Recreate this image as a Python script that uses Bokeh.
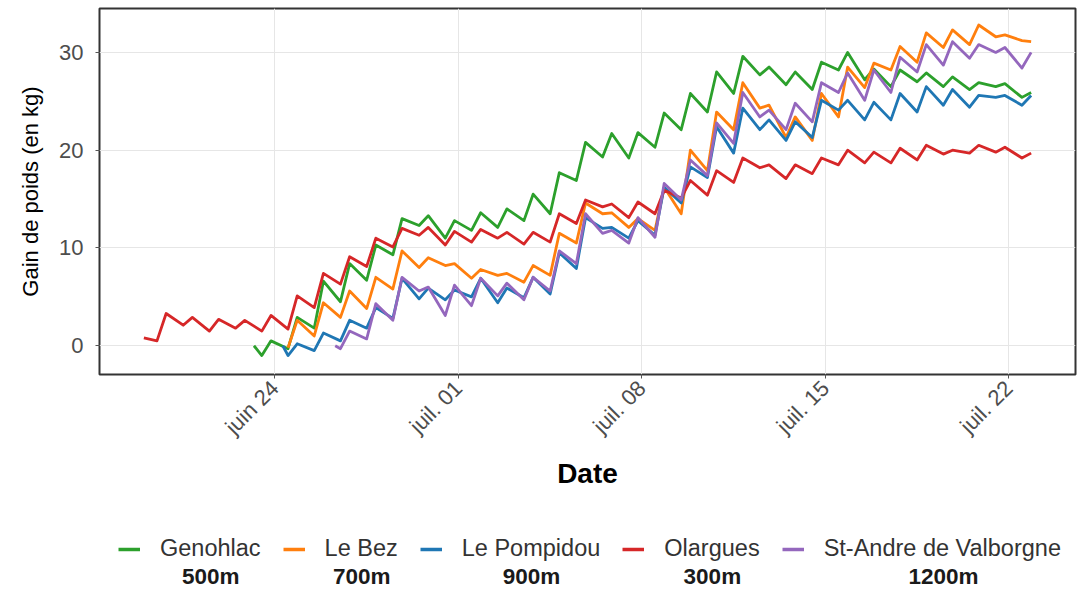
import pandas as pd
from bokeh.plotting import figure
from bokeh.models import ColumnDataSource, Range1d, FixedTicker, Legend, LegendItem, Label
from bokeh.layouts import column
from bokeh.embed import file_html
from bokeh.resources import INLINE

# ---------------- data ----------------
REF_DATE = pd.Timestamp("2023-06-24")          # day 0 of the day offsets below
TROUGH_TIME = 0.5                               # time of day of the daily low reading
PEAK_TIME = 0.85                                # time of day of the daily high reading

names = ["Genohlac", "Le Bez", "Le Pompidou", "Olargues", "St-Andre de Valborgne"]
altitudes = ["500m", "700m", "900m", "300m", "1200m"]
colors = ["#2ca02c", "#ff7f0e", "#1f77b4", "#d62728", "#9467bd"]

genohlac_first_day = -1
genohlac_lead = (-0.8, 0.0)
genohlac_low = [-1.0, -0.3, 1.8, 4.5, 6.7, 9.3, 12.3, 11.0, 11.8, 12.1, 12.8, 13.5, 16.9, 19.3, 19.2,
                20.3, 22.1, 23.9, 25.8, 27.7, 26.7, 26.2, 28.2, 27.2, 26.5, 27.0, 26.5, 26.2, 26.5, 25.4]
genohlac_high = [0.5, 2.9, 6.6, 8.4, 10.3, 13.0, 13.3, 12.8, 13.6, 14.0, 15.5, 17.7, 20.8, 21.7, 21.8,
                 23.8, 25.8, 28.0, 29.6, 28.5, 28.0, 29.0, 30.0, 28.3, 28.2, 27.9, 27.5, 26.9, 26.8, 25.9]

lebez_first_day = 0
lebez_lead = None
lebez_low = [-0.2, 1.0, 2.9, 3.8, 5.8, 8.0, 8.2, 6.9, 7.2, 6.5, 7.2, 10.5, 13.5, 12.1, 11.8, 13.5,
             17.9, 22.1, 24.3, 21.3, 21.0, 23.4, 26.4, 28.2, 29.0, 30.5, 30.8, 31.6, 31.2]
lebez_high = [2.6, 4.4, 5.6, 7.0, 9.7, 9.0, 8.4, 7.8, 7.4, 8.2, 11.5, 14.6, 13.6, 13.0, 16.2, 20.0,
              23.9, 26.9, 24.6, 23.4, 25.8, 28.5, 28.9, 30.6, 32.0, 32.3, 32.8, 31.8, 31.1]

pompidou_first_day = 0
pompidou_lead = (0.3, 0.0)
pompidou_low = [-1.0, -0.5, 0.5, 1.8, 2.8, 4.8, 4.7, 5.0, 4.4, 4.9, 5.3, 7.9, 12.0, 11.0, 11.3, 14.6,
                17.2, 19.7, 22.1, 21.0, 21.3, 24.1, 23.1, 23.1, 23.9, 24.6, 24.4, 25.4, 24.6]
pompidou_high = [0.2, 1.3, 2.6, 3.9, 6.9, 5.9, 5.7, 6.9, 5.9, 7.0, 9.5, 13.1, 12.1, 12.8, 16.2, 18.3,
                 22.4, 24.3, 23.1, 22.9, 25.1, 25.1, 24.9, 25.8, 26.5, 26.2, 25.6, 25.6, 25.6]

olargues_first_day = -5
olargues_lead = (-5.0, 0.8)
olargues_low = [0.5, 2.1, 1.5, 1.8, 1.5, 1.7, 3.9, 6.3, 8.1, 10.1, 11.3, 10.3, 10.6, 11.0, 10.4, 10.6,
                12.5, 14.2, 13.1, 13.5, 15.1, 15.4, 16.7, 18.2, 17.1, 17.6, 18.5, 18.7, 18.7, 19.0,
                19.6, 19.7, 19.8, 19.2]
olargues_high = [3.3, 2.9, 2.7, 2.6, 3.1, 5.1, 7.4, 9.1, 11.0, 12.0, 12.1, 11.7, 11.9, 11.6, 11.6, 13.5,
                 14.9, 14.5, 14.7, 15.9, 16.9, 17.9, 19.2, 18.5, 18.5, 19.2, 20.0, 19.8, 20.2, 20.5,
                 20.0, 20.5, 20.3, 19.7]

standre_first_day = 2
standre_lead = (2.3, 0.0)
standre_low = [-0.3, 0.7, 2.6, 5.6, 3.1, 4.1, 5.1, 4.7, 5.6, 8.4, 11.5, 10.5, 11.1, 14.9, 17.4, 20.7,
               23.4, 22.1, 22.9, 25.9, 25.1, 25.9, 28.0, 28.7, 29.4, 30.0, 28.4]
standre_high = [1.5, 4.3, 7.0, 6.0, 6.2, 6.9, 6.4, 7.0, 9.7, 13.5, 11.8, 13.1, 16.6, 19.0, 22.8, 25.9,
                24.1, 24.8, 26.9, 27.9, 28.2, 29.5, 30.8, 31.1, 30.8, 30.5, 30.0]

x_tick_days = [0, 7, 14, 21, 28]
x_tick_labels = ["juin 24", "juil. 01", "juil. 08", "juil. 15", "juil. 22"]
y_ticks = [0, 10, 20, 30]

series = [
    (genohlac_first_day, genohlac_lead, genohlac_low, genohlac_high),
    (lebez_first_day, lebez_lead, lebez_low, lebez_high),
    (pompidou_first_day, pompidou_lead, pompidou_low, pompidou_high),
    (olargues_first_day, olargues_lead, olargues_low, olargues_high),
    (standre_first_day, standre_lead, standre_low, standre_high),
]


def build(first_day, lead, lows, highs):
    t, v = [], []
    if lead is not None:
        t.append(lead[0])
        v.append(lead[1])
    for i, (lo, hi) in enumerate(zip(lows, highs)):
        d = first_day + i
        t += [d + TROUGH_TIME, d + PEAK_TIME]
        v += [lo, hi]
    return t, v


all_t, all_v, sources = [], [], []
for s in series:
    t, v = build(*s)
    all_t += t
    all_v += v
    sources.append(ColumnDataSource(dict(date=REF_DATE + pd.to_timedelta(t, unit="D"), gain=v)))

tmin, tmax = min(all_t), max(all_t)
vmin, vmax = min(all_v), max(all_v)
tpad, vpad = 0.05 * (tmax - tmin), 0.05 * (vmax - vmin)


def to_ms(day):
    return (REF_DATE + pd.Timedelta(days=day)).value / 1e6


FONT = "Liberation Sans"

p = figure(width=1080, height=508, x_axis_type="datetime", output_backend="svg",
           toolbar_location=None,
           x_range=Range1d(to_ms(tmin - tpad), to_ms(tmax + tpad)),
           y_range=Range1d(vmin - vpad - 0.25, vmax + vpad),
           min_border_left=99, min_border_right=5, min_border_top=8, min_border_bottom=134)

for src, col in zip(sources, colors):
    p.line("date", "gain", source=src, color=col, line_width=2.8, line_join="round")

tick_ms = [to_ms(d) for d in x_tick_days]
p.xaxis.ticker = FixedTicker(ticks=tick_ms)
p.xaxis.major_label_overrides = {ms: lab for ms, lab in zip(tick_ms, x_tick_labels)}
p.yaxis.ticker = FixedTicker(ticks=y_ticks)
p.xaxis.major_label_orientation = 0.785398

p.outline_line_color = "#333333"
p.outline_line_width = 2
p.grid.grid_line_color = "#e6e6e6"
p.grid.grid_line_width = 1
p.axis.axis_line_color = None
p.axis.major_tick_line_color = "#555555"
p.axis.major_tick_out = 4
p.axis.major_tick_in = 0
p.axis.minor_tick_line_color = None
p.axis.major_label_text_font = FONT
p.axis.major_label_text_font_size = "22px"
p.axis.major_label_text_color = "#4d4d4d"
p.yaxis.major_label_standoff = 12
p.xaxis.major_label_standoff = 6

p.xaxis.axis_label = "Date"
p.xaxis.axis_label_text_font = FONT
p.xaxis.axis_label_text_font_size = "28px"
p.xaxis.axis_label_text_font_style = "bold"
p.xaxis.axis_label_text_color = "#000000"
p.xaxis.axis_label_standoff = 7
p.yaxis.axis_label = "Gain de poids (en kg)"
p.yaxis.axis_label_text_font = FONT
p.yaxis.axis_label_text_font_size = "22px"
p.yaxis.axis_label_text_font_style = "normal"
p.yaxis.axis_label_text_color = "#000000"
p.yaxis.axis_label_standoff = 13

# ---- legend in its own strip below the chart ----
LEG_FS = 23.5
GLYPH_W, STANDOFF, SPACING, LEG_X0 = 22, 20, 22, 19
# Arial / Liberation Sans advance widths (em), to place the altitude under each name
ARIAL_W = {"a": .556, "b": .556, "c": .5, "d": .556, "e": .556, "g": .556, "h": .556, "i": .222,
           "l": .222, "m": .833, "n": .556, "o": .556, "p": .556, "r": .333, "s": .5, "t": .278,
           "u": .556, "z": .5, " ": .278, "-": .333, "A": .667, "B": .667, "G": .778, "L": .556,
           "O": .778, "P": .667, "S": .667, "V": .667}


def text_w(s):
    return sum(ARIAL_W.get(ch, 0.556) for ch in s) * LEG_FS


q = figure(width=1080, height=83, output_backend="svg", toolbar_location=None,
           x_range=Range1d(0, 1), y_range=Range1d(0, 1), min_border=0)
q.axis.visible = False
q.grid.visible = False
q.outline_line_color = None
items = []
x = LEG_X0
for name, alt, col, src in zip(names, altitudes, colors, sources):
    # same data as the chart; it lies far outside this strip's range, so only the key shows
    r = q.line("date", "gain", source=src, color=col, line_width=3.5)
    items.append(LegendItem(label=name, renderers=[r]))
    w = text_w(name)
    centre = x + GLYPH_W + STANDOFF + w / 2
    q.add_layout(Label(x=centre, y=15, x_units="screen", y_units="screen", text=alt,
                       text_align="center", text_baseline="middle", text_font=FONT,
                       text_font_size="22.5px", text_font_style="bold", text_color="#1a1a1a"))
    x += GLYPH_W + STANDOFF + w + SPACING
legend = Legend(items=items, orientation="horizontal", location=(LEG_X0, 29),
                label_text_font=FONT, label_text_font_size="%.1fpx" % LEG_FS,
                label_text_color="#333333",
                glyph_width=GLYPH_W, glyph_height=22, label_standoff=STANDOFF, spacing=SPACING,
                padding=0, margin=0, border_line_color=None, background_fill_alpha=0)
q.add_layout(legend, "center")

layout = column(p, q, spacing=0)
open("out.html", "w").write(file_html(layout, INLINE))
